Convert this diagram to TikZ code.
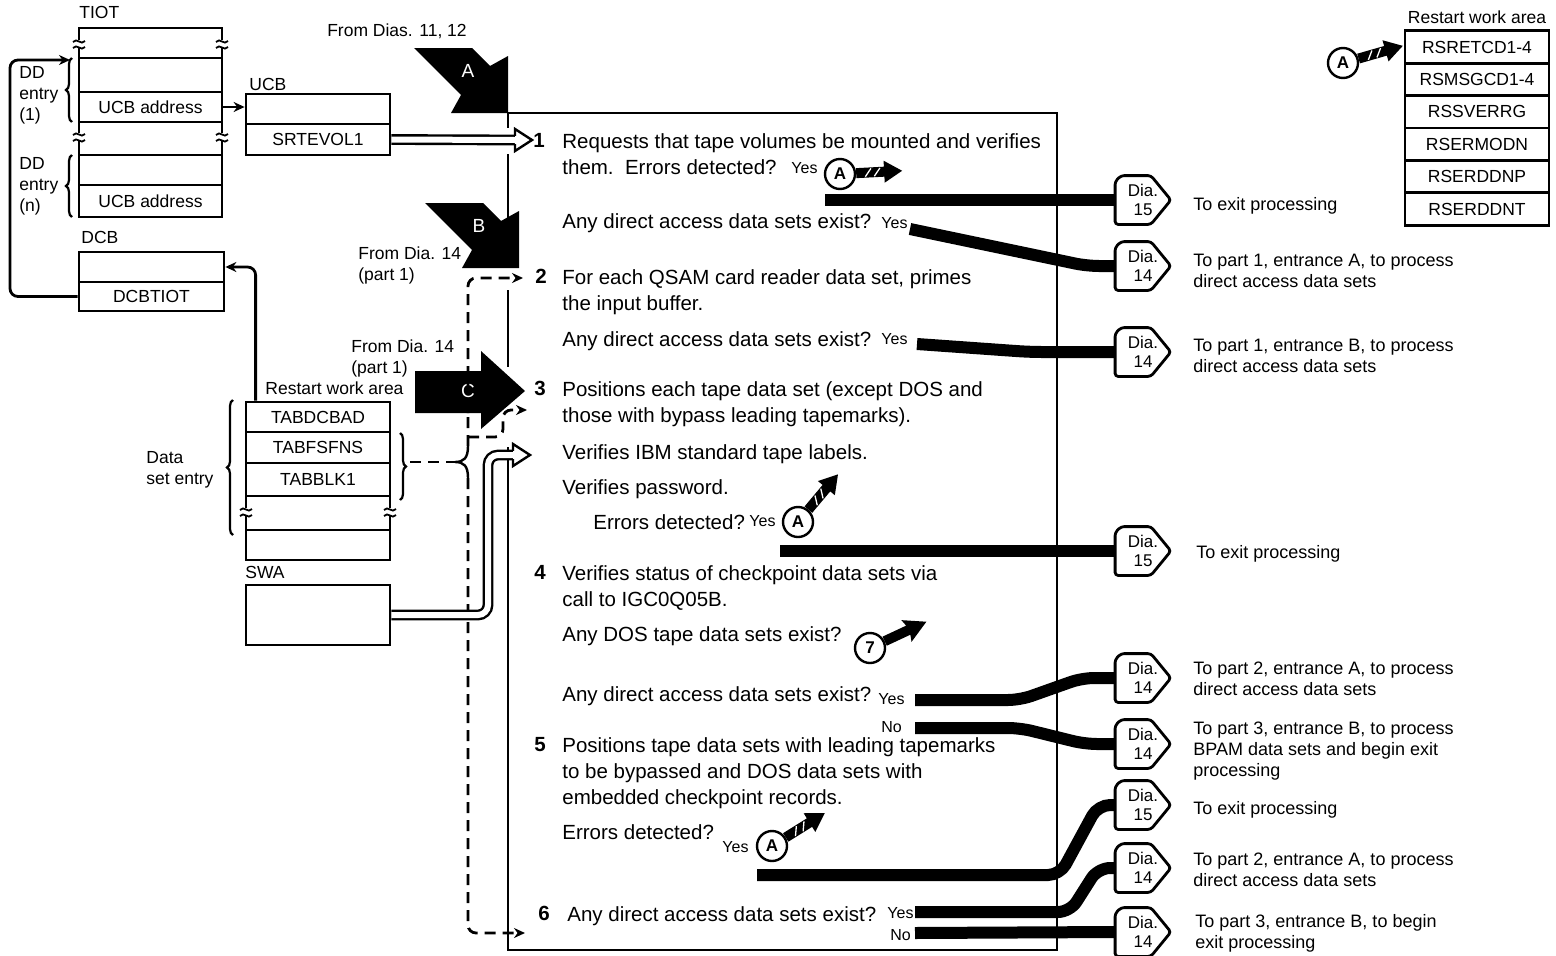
\documentclass[tikz,border=0pt]{standalone}
\usepackage{fontspec}
\setmainfont{Liberation Sans}
\usetikzlibrary{arrows.meta,calc,positioning,decorations.pathreplacing}

% break mark on a box side
\newcommand{\sidebreak}[2]{%
  \draw[line width=1.8pt] (#1-6,#2-2) .. controls (#1-2,#2-7) and (#1+2,#2+2) .. (#1+6,#2-3);
  \draw[line width=1.8pt] (#1-6,#2+4) .. controls (#1-2,#2-1) and (#1+2,#2+8) .. (#1+6,#2+3);}
% black block arrow pointing down right, tip at (#1,#2)
\newcommand{\blockarrow}[3]{%
  \fill (#1-94,#2-65) -- (#1-36,#2-65) -- (#1-18,#2-47) -- (#1,#2-57) -- (#1,#2)
    -- (#1-57,#2) -- (#1-47,#2-18) -- cycle;
  \node[letter] (arr#3) at (#1-40,#2-42) {#3};}
% open head of a double line arrow
\newcommand{\hollowhead}[1]{%
  \draw[fill=white, line width=2.4pt, line join=miter] ($(#1)+(-17,-4.2)$) -- ($(#1)+(-17,-11)$)
    -- (#1) -- ($(#1)+(-17,11)$) -- ($(#1)+(-17,4.2)$);}
% hatched arrow leaving a connector circle
\newcommand{\hatcharrow}[2]{%
  \begin{scope}[shift={(#1.#2)}, rotate=#2]
    \fill (0,-5) -- (28,-5) -- (28,-11) -- (46,0) -- (28,11) -- (28,5) -- (0,5) -- cycle;
    \draw[white, line width=1.3pt] (9,4) -- (15,-4) (18,4) -- (24,-4);
  \end{scope}}
\newcommand{\plainarrow}[2]{%
  \begin{scope}[shift={(#1.#2)}, rotate=#2]
    \fill (0,-5) -- (26,-5) -- (24,-12) -- (46,0) -- (24,12) -- (26,5) -- (0,5) -- cycle;
  \end{scope}}
% off-page connector
\newcommand{\diaconn}[3]{%
  \node[dia] (#1) at (1143,#2) {Dia.\\#3};
  \draw[rounded corners=3pt] (#1.south west) -- ([yshift=-6pt]#1.north west) -- ([xshift=6pt]#1.north west)
    -- ([xshift=-20pt]#1.north east) -- (#1.east) -- ([xshift=-20pt]#1.south east) -- cycle;}

\begin{document}
\begin{tikzpicture}[x=1pt, y=-1pt, line width=2.8pt, >={Stealth[length=11pt,width=10pt]},
  row/.style={draw, minimum width=144pt, inner sep=0pt, font=\fontsize{17.5}{20}\selectfont},
  txt/.style={anchor=north west, inner sep=0pt, align=left, font=\fontsize{20.5}{26}\selectfont},
  num/.style={txt, font=\fontsize{20.5}{26}\selectfont\bfseries},
  yes/.style={anchor=base west, inner sep=0pt, font=\fontsize{16}{18}\selectfont},
  lbl/.style={inner sep=0pt, align=left, font=\fontsize{17.5}{21}\selectfont},
  note/.style={anchor=north west, inner sep=0pt, align=left, font=\fontsize{18}{21}\selectfont},
  conn/.style={circle, draw, line width=2.4pt, minimum size=30pt, inner sep=0pt, font=\fontsize{17}{17}\selectfont\bfseries},
  dia/.style={minimum width=53pt, minimum height=46pt, inner sep=0pt, align=center, font=\fontsize{17}{19}\selectfont},
  letter/.style={white, inner sep=0pt, font=\fontsize{19}{19}\selectfont},
  bar/.style={line width=12pt, rounded corners=12pt},
  dsh/.style={dash pattern=on 11pt off 7pt},
  dbl/.style={double distance=6pt, line width=2.4pt, rounded corners=10pt},
  brc/.style={decorate, decoration={brace, amplitude=6pt}, line width=2.2pt}]
\useasboundingbox (0,0) rectangle (1556,956);

% TIOT
\node[lbl, anchor=base west] (tiotlbl) at (78,18) {TIOT};
\node[row, minimum width=143pt, minimum height=34pt] (t1) at (150.5,75) {};
\node[row, minimum width=143pt, minimum height=30pt] (t2) at (150.5,107) {UCB address};
\node[row, minimum width=143pt, minimum height=30pt] (t3) at (150.5,170) {};
\node[row, minimum width=143pt, minimum height=32pt] (t4) at (150.5,201) {UCB address};
\draw (79,58) -- (79,48) (222,58) -- (222,48);
\draw (79,40) -- (79,28) -- (222,28) -- (222,40);
\sidebreak{79}{44} \sidebreak{222}{44}
\draw (79,122) -- (79,133) (79,141) -- (79,155) (222,122) -- (222,133) (222,141) -- (222,155);
\sidebreak{79}{137} \sidebreak{222}{137}
\draw[brc] (72,122) -- (72,58);
\node[lbl, anchor=north west] (dd1) at (18,65) {DD\\entry\\(1)};
\draw[brc] (72,217) -- (72,155);
\node[lbl, anchor=north west] (ddn) at (18,156) {DD\\entry\\(n)};

% UCB
\node[lbl, anchor=base west] (ucblbl) at (248,90) {UCB};
\node[row, minimum height=30pt] (u1) at (318,109) {};
\node[row, minimum height=31pt] (u2) at (318,139.5) {SRTEVOL1};
\draw[->] (t2.east) -- (t2.east -| u1.west);

% DCB
\node[lbl, anchor=base west] (dcblbl) at (80,243) {DCB};
\node[row, minimum width=145pt, minimum height=30pt] (dcb1) at (151.5,267) {};
\node[row, minimum width=145pt, minimum height=29pt] (dcb2) at (151.5,296.5) {DCBTIOT};
\coordinate (ddtop) at (70,60);
\draw[->, rounded corners=8pt] (dcb2.west) -| (10,60) -- (ddtop);

% Restart work area (data set entry)
\node[lbl, anchor=base west] (rwalbl) at (264,394) {Restart work area};
\node[row, minimum height=30pt] (r1) at (318,417) {TABDCBAD};
\node[row, minimum height=31pt] (r2) at (318,447.5) {TABFSFNS};
\node[row, minimum height=33pt] (r3) at (318,479.5) {TABBLK1};
\node[row, minimum height=30pt] (r4) at (318,545) {};
\draw (246,496) -- (246,508) (246,516) -- (246,530) (390,496) -- (390,508) (390,516) -- (390,530);
\sidebreak{246}{512} \sidebreak{390}{512}
\draw[->, rounded corners=8pt] ($(r1.north west)+(11,0)$) |- (dcb1.east);
\draw[brc] (233,535) -- (233,400);
\node[lbl, anchor=north west] (dselbl) at (145,450) {Data\\set entry};
\draw[brc] (400,433) -- (400,500);

% SWA
\node[lbl, anchor=base west] (swalbl) at (244,578) {SWA};
\node[row, minimum height=60pt] (swa) at (318,615) {};

% process box
\draw (508,113) -- (1057,113) -- (1057,950) -- (508,950) -- (508,447);
\draw (508,113) -- (508,128) (508,154) -- (508,230) (508,290) -- (508,367);

% entry arrows
\blockarrow{508}{113}{A}
\blockarrow{519}{268}{B}
\fill (415,371) -- (481,371) -- (481,351) -- (525,391) -- (481,429) -- (481,413) -- (415,413) -- cycle;
\node[letter] (arrC) at (468,391) {C};
\node[lbl, anchor=base] (from1) at (397,36) {From Dias. 11, 12};
\node[lbl, anchor=north west] (from2) at (357,245) {From Dia. 14\\(part 1)};
\node[lbl, anchor=north west] (from3) at (350,338) {From Dia. 14\\(part 1)};

% dashed flow
\coordinate (e2) at (523,278);
\coordinate (e3) at (527,410);
\coordinate (e6) at (525,933);
\draw[dsh] (410,462) -- (455,462);
\draw[line width=2.4pt] (468,446) .. controls (468,458) and (464,462) .. (455,462)
  .. controls (464,462) and (468,466) .. (468,478);
\draw[dsh, ->, rounded corners=8pt] (468,446) -- (468,371) (468,413) -- (468,278) -- (e2);
\draw[dsh, ->, rounded corners=8pt] (468,437) -- (503,437) -- (503,410) -- (e3);
\draw[dsh, ->, rounded corners=8pt] (468,478) -- (468,933) -- (e6);

% double line arrows
\coordinate (h1) at (532,140);
\draw[dbl] (u2.east) -- ($(h1)+(-17,0)$);
\hollowhead{h1}
\coordinate (h2) at (530,455);
\draw[dbl] (swa.east) -| (488,455) -- ($(h2)+(-17,0)$);
\hollowhead{h2}

% steps
\node[num] (n1) at (532,132) {1};
\node[txt] (s1) at (561,132) {Requests that tape volumes be mounted and verifies\\them.\ \ Errors detected?};
\node[yes] (s1y) at (790,173) {Yes};
\node[txt] (q1) at (561,212) {Any direct access data sets exist?};
\node[yes] (q1y) at (880,228) {Yes};
\node[num] (n2) at (534,268) {2};
\node[txt] (s2) at (561,268) {For each QSAM card reader data set, primes\\the input buffer.};
\node[txt] (q2) at (561,330) {Any direct access data sets exist?};
\node[yes] (q2y) at (880,344) {Yes};
\node[num] (n3) at (533,380) {3};
\node[txt] (s3) at (561,380) {Positions each tape data set (except DOS and\\those with bypass leading tapemarks).};
\node[txt] (s3b) at (561,443) {Verifies IBM standard tape labels.};
\node[txt] (s3c) at (561,478) {Verifies password.};
\node[txt] (q3) at (592,513) {Errors detected?};
\node[yes] (q3y) at (748,526) {Yes};
\node[num] (n4) at (533,564) {4};
\node[txt] (s4) at (561,564) {Verifies status of checkpoint data sets via\\call to IGC0Q05B.};
\node[txt] (q4) at (561,625) {Any DOS tape data sets exist?};
\node[txt] (q5) at (561,685) {Any direct access data sets exist?};
\node[yes] (q5y) at (877,704) {Yes};
\node[yes] (q5n) at (880,732) {No};
\node[num] (n5) at (533,736) {5};
\node[txt] (s5) at (561,736) {Positions tape data sets with leading tapemarks\\to be bypassed and DOS data sets with\\embedded checkpoint records.};
\node[txt] (q6) at (561,823) {Errors detected?};
\node[yes] (q6y) at (721,852) {Yes};
\node[num] (n6) at (537,905) {6};
\node[txt] (s6) at (566,905) {Any direct access data sets exist?};
\node[yes] (s6y) at (886,918) {Yes};
\node[yes] (s6n) at (889,940) {No};

% connector circles
\node[conn] (ca1) at (840,174) {A};
\hatcharrow{ca1}{3}
\node[conn] (ca2) at (798,522) {A};
\hatcharrow{ca2}{50}
\node[conn] (c7) at (870,648) {7};
\plainarrow{c7}{25}
\node[conn] (ca3) at (772,846) {A};
\hatcharrow{ca3}{32}

% exits
\diaconn{d1}{200}{15}
\diaconn{d2}{266}{14}
\diaconn{d3}{352}{14}
\diaconn{d4}{551}{15}
\diaconn{d5}{678}{14}
\diaconn{d6}{744}{14}
\diaconn{d7}{805}{15}
\diaconn{d8}{868}{14}
\diaconn{d9}{932}{14}
\coordinate (y1) at (825,200);
\coordinate (y2) at (910,229);
\coordinate (y3) at (917,344);
\coordinate (y4) at (780,551);
\coordinate (y5) at (915,700);
\coordinate (y6) at (915,728);
\coordinate (y7) at (757,875);
\coordinate (y8) at (915,912);
\coordinate (y9) at (915,933);
\draw[bar] (y1) -- (d1.west);
\draw[bar] (y2) -- (1087,266) -- (d2.west);
\draw[bar] (y3) -- (1030,352) -- (d3.west);
\draw[bar] (y4) -- (d4.west);
\draw[bar] (y5) -- (1020,700) -- (1082,678) -- (d5.west);
\draw[bar] (y6) -- (1020,728) -- (1085,744) -- (d6.west);
\draw[bar] (y7) -- (1060,875) -- (1098,805) -- (d7.west);
\draw[bar] (y8) -- (1070,912) -- (1098,868) -- (d8.west);
\draw[bar] (y9) -- (d9.west);
\node[note] (x1) at (1192,196) {To exit processing};
\node[note] (x2) at (1192,253) {To part 1, entrance A, to process\\direct access data sets};
\node[note] (x3) at (1192,338) {To part 1, entrance B, to process\\direct access data sets};
\node[note] (x4) at (1195,544) {To exit processing};
\node[note] (x5) at (1192,661) {To part 2, entrance A, to process\\direct access data sets};
\node[note] (x6) at (1192,721) {To part 3, entrance B, to process\\BPAM data sets and begin exit\\processing};
\node[note] (x7) at (1192,800) {To exit processing};
\node[note] (x8) at (1192,852) {To part 2, entrance A, to process\\direct access data sets};
\node[note] (x9) at (1194,913) {To part 3, entrance B, to begin\\exit processing};

% restart work area (errors)
\node[lbl, anchor=base] (rwa2lbl) at (1477,23) {Restart work area};
\foreach \t [count=\i] in {RSRETCD1-4, RSMSGCD1-4, RSSVERRG, RSERMODN, RSERDDNP, RSERDDNT}
  \node[row, minimum height=32.4pt] (rw\i) at (1477,{14.6+32.4*\i}) {\t};
\node[conn] (ca4) at (1343,63) {A};
\hatcharrow{ca4}{16}
\end{tikzpicture}
\end{document}
